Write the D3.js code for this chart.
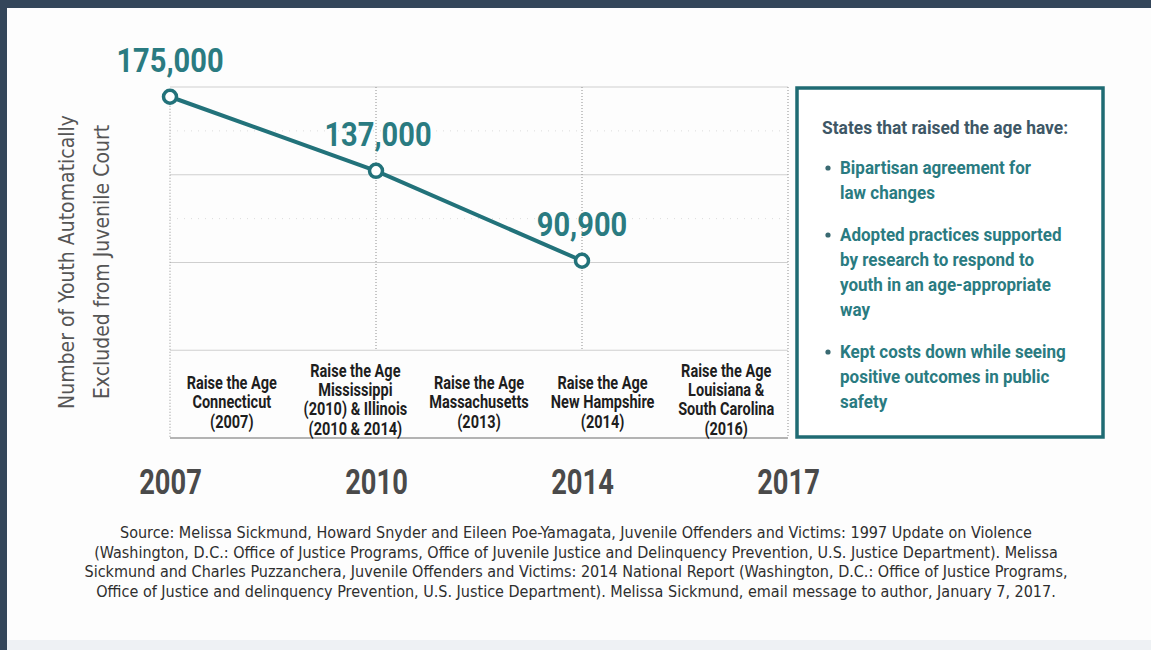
<!DOCTYPE html>
<html>
<head>
<meta charset="utf-8">
<script src="https://cdn.jsdelivr.net/npm/d3@7"></script>
<style>
    html, body { margin: 0; padding: 0; background: #34465a; }
    svg { display: block; }
    .cond { font-family: 'DejaVu Sans Condensed', 'DejaVu Sans', sans-serif; font-stretch: condensed; }
    .bold { font-family: 'Roboto', 'Liberation Sans', sans-serif; font-weight: 700; }
</style>
</head>
<body>
<div id="chart"></div>
<script>
'use strict';

// Chart data
const years = ['2007', '2010', '2014', '2017'];
const pointYears = ['2007', '2010', '2014'];
const excluded = [175000, 137000, 90900];
const gridTicks = [0, 45000, 90000, 135000, 180000];
const minorTicks = [112500, 157500];

// Raise the Age milestones (one column each)
const milestones = [
    ['Raise the Age', 'Connecticut', '(2007)'],
    ['Raise the Age', 'Mississippi', '(2010) & Illinois', '(2010 & 2014)'],
    ['Raise the Age', 'Massachusetts', '(2013)'],
    ['Raise the Age', 'New Hampshire', '(2014)'],
    ['Raise the Age', 'Louisiana &', 'South Carolina', '(2016)']
];

const yTitle = ['Number of Youth Automatically', 'Excluded from Juvenile Court'];

const boxTitle = 'States that raised the age have:';
const boxBullets = [
    ['Bipartisan agreement for', 'law changes'],
    ['Adopted practices supported', 'by research to respond to', 'youth in an age-appropriate', 'way'],
    ['Kept costs down while seeing', 'positive outcomes in public', 'safety']
];

const sourceLines = [
    'Source: Melissa Sickmund, Howard Snyder and Eileen Poe-Yamagata, Juvenile Offenders and Victims: 1997 Update on Violence',
    '(Washington, D.C.: Office of Justice Programs, Office of Juvenile Justice and Delinquency Prevention, U.S. Justice Department). Melissa',
    'Sickmund and Charles Puzzanchera, Juvenile Offenders and Victims: 2014 National Report (Washington, D.C.: Office of Justice Programs,',
    'Office of Justice and delinquency Prevention, U.S. Justice Department). Melissa Sickmund, email message to author, January 7, 2017.'
];

const teal = '#22727a';
const tealText = '#2a7b81';

const width = 1151, height = 650;
const margins = { left: 170, right: 363, top: 87, bottom: 212 };

// squeeze a bold face horizontally to get the condensed look
const squeeze = (x, y, k) => `translate(${x}, ${y}) scale(${k}, 1)`;

const svg = d3.select('#chart').append('svg')
    .attr('width', width)
    .attr('height', height);

// Frame: dark border top/left, white panel
svg.append('rect').attr('width', width).attr('height', height).attr('fill', '#34465a');
svg.append('rect').attr('x', 7).attr('y', 8).attr('width', width - 7).attr('height', height - 8).attr('fill', '#eef1f4');
svg.append('rect').attr('x', 7).attr('y', 8).attr('width', width - 7).attr('height', 632).attr('fill', '#fdfdfd');

// Scales
const scaleX = d3.scalePoint()
    .domain(years)
    .range([margins.left, width - margins.right]);

const scaleY = d3.scaleLinear()
    .domain([0, 180000])
    .range([height - margins.bottom, margins.top]);

const scaleCol = d3.scaleBand()
    .domain(d3.range(milestones.length))
    .range(scaleX.range());

// Grid
const grid = svg.append('g');

grid.selectAll('line.minor')
    .data(minorTicks)
    .join('line')
    .attr('x1', scaleX.range()[0]).attr('x2', scaleX.range()[1])
    .attr('y1', d => scaleY(d)).attr('y2', d => scaleY(d))
    .attr('stroke', '#dcdcdc')
    .attr('stroke-dasharray', '1,6');

grid.selectAll('line.major')
    .data(gridTicks)
    .join('line')
    .attr('x1', scaleX.range()[0]).attr('x2', scaleX.range()[1])
    .attr('y1', d => scaleY(d)).attr('y2', d => scaleY(d))
    .attr('stroke', d => d === 0 ? '#9a9a9a' : '#cfcfcf')
    .attr('stroke-width', d => d === 0 ? 1.5 : 1);

// Dotted verticals: edges run the full height, inner ones stop at the label row
grid.selectAll('line.vert')
    .data(years)
    .join('line')
    .attr('x1', d => scaleX(d)).attr('x2', d => scaleX(d))
    .attr('y1', (d, i) => i === 0 ? scaleY(excluded[0]) : scaleY(180000))
    .attr('y2', (d, i) => (i === 0 || i === years.length - 1) ? scaleY(0) : scaleY(45000))
    .attr('stroke', '#8f8f8f')
    .attr('stroke-dasharray', '1,2');

// Milestone labels
const rowMid = (scaleY(0) + scaleY(45000)) / 2;

svg.append('g').selectAll('text')
    .data(milestones)
    .join('text')
    .classed('bold', true)
    .attr('text-anchor', 'middle')
    .attr('font-size', 17.5)
    .attr('fill', '#1e1e1e')
    .attr('transform', (lines, i) =>
        squeeze(scaleCol(i) + scaleCol.bandwidth() / 2,
            rowMid - (lines.length - 1) * 9.5 + (lines.length === 3 ? 14 : 11), 0.83))
    .each(function (lines) {
        d3.select(this).selectAll('tspan')
            .data(lines)
            .join('tspan')
            .attr('x', 0)
            .attr('y', (d, j) => j * 19.3)
            .text(d => d);
    });

// Line + points
const line = d3.line()
    .x((d, i) => scaleX(pointYears[i]))
    .y(d => scaleY(d));

svg.append('path')
    .datum(excluded)
    .attr('d', line)
    .attr('fill', 'none')
    .attr('stroke', teal)
    .attr('stroke-width', 4);

svg.selectAll('circle.pt')
    .data(excluded)
    .join('circle')
    .attr('cx', (d, i) => scaleX(pointYears[i]))
    .attr('cy', d => scaleY(d))
    .attr('r', 6.5)
    .attr('fill', '#fff')
    .attr('stroke', teal)
    .attr('stroke-width', 3.5);

// Value labels
const fmt = d3.format(',');
svg.selectAll('text.val')
    .data(excluded)
    .join('text')
    .classed('bold', true)
    .attr('transform', (d, i) => squeeze(scaleX(pointYears[i]) + (i === 1 ? 2 : 0), scaleY(d) - 25, 0.88))
    .attr('text-anchor', 'middle')
    .attr('font-size', 33)
    .attr('fill', tealText)
    .text(d => fmt(d));

// Year axis (labels only)
const axisX = svg.append('g')
    .attr('transform', `translate(0, ${scaleY(0) + 56})`)
    .call(d3.axisBottom(scaleX).tickSize(0).tickPadding(0));
axisX.select('.domain').remove();
axisX.selectAll('text')
    .attr('class', 'bold')
    .attr('font-size', 35)
    .attr('fill', '#4a4a4a')
    .attr('dy', 0)
    .attr('transform', 'scale(0.78, 1)');
axisX.attr('font-family', null);

// Y title
svg.append('text')
    .classed('cond', true)
    .attr('transform', `translate(74, 262) rotate(-90)`)
    .attr('text-anchor', 'middle')
    .attr('font-size', 21)
    .attr('fill', '#555')
    .selectAll('tspan')
    .data(yTitle)
    .join('tspan')
    .attr('x', 0)
    .attr('y', (d, i) => i * 35)
    .text(d => d);

// Right box
const box = svg.append('g');
box.append('rect')
    .attr('x', 797).attr('y', 88)
    .attr('width', 306).attr('height', 349)
    .attr('fill', '#fff')
    .attr('stroke', '#1f6b73')
    .attr('stroke-width', 3.5);

box.append('text')
    .classed('bold', true)
    .attr('transform', squeeze(822, 134, 0.915))
    .attr('font-size', 19)
    .attr('fill', '#3e5766')
    .text(boxTitle);

let by = 174;
boxBullets.forEach(lines => {
    box.append('circle')
        .attr('cx', 828).attr('cy', by - 6)
        .attr('r', 2.6)
        .attr('fill', '#3a6a72');
    box.append('text')
        .classed('bold', true)
        .attr('transform', squeeze(840, by, 0.895))
        .attr('font-size', 19)
        .attr('fill', tealText)
        .selectAll('tspan')
        .data(lines)
        .join('tspan')
        .attr('x', 0)
        .attr('y', (d, j) => j * 25)
        .text(d => d);
    by += lines.length * 25 + 17;
});

// Source note
svg.append('text')
    .classed('cond', true)
    .attr('text-anchor', 'middle')
    .attr('font-size', 16)
    .attr('fill', '#2e2e2e')
    .selectAll('tspan')
    .data(sourceLines)
    .join('tspan')
    .attr('x', 576)
    .attr('y', (d, i) => 538 + i * 19.5)
    .text(d => d);
</script>
</body>
</html>
